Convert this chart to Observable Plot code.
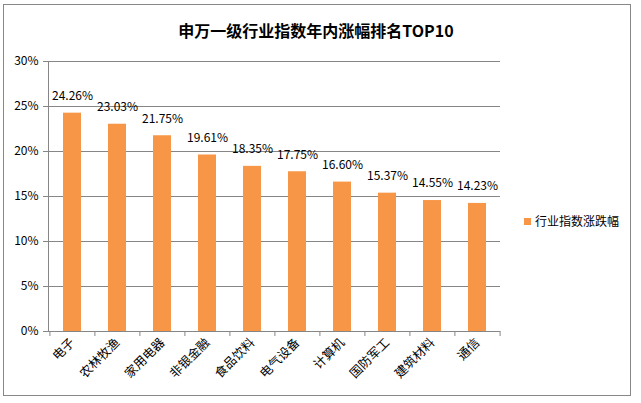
<!DOCTYPE html>
<html>
<head>
<meta charset="utf-8">
<script src="https://cdn.jsdelivr.net/npm/d3@7"></script>
<script src="https://cdn.jsdelivr.net/npm/@observablehq/plot@0.6"></script>
<style>
  html, body { margin: 0; padding: 0; background: #fff; }
  #wrap { position: relative; width: 641px; height: 403px; overflow: hidden; font-family: "Noto Sans CJK SC", "Noto Sans", sans-serif; }
  #border { position: absolute; left: 3px; top: 4px; width: 628px; height: 392px; border: 1px solid #888; box-sizing: border-box; }
  #title { position: absolute; left: 0; top: 19px; width: 632px; text-align: center; font-size: 16px; font-weight: bold; color: #000; line-height: 22px; }
  #legend { position: absolute; left: 524px; top: 212px; font-size: 12px; color: #000; display: flex; align-items: center; line-height: 18px; }
  #legend span.sw { display: inline-block; width: 7px; height: 7px; background: #F79646; margin-right: 4px; }
  #chart { position: absolute; left: 0; top: 0; }
</style>
</head>
<body>
<div id="wrap">
  <div id="chart"></div>
  <div id="border"></div>
  <div id="title">申万一级行业指数年内涨幅排名TOP10</div>
  <div id="legend"><span class="sw"></span><span>行业指数涨跌幅</span></div>
</div>
<script>
const categories = ["电子", "农林牧渔", "家用电器", "非银金融", "食品饮料", "电气设备", "计算机", "国防军工", "建筑材料", "通信"];
const values = [24.26, 23.03, 21.75, 19.61, 18.35, 17.75, 16.60, 15.37, 14.55, 14.23];
const yTicks = [0, 5, 10, 15, 20, 25, 30];
const seriesName = "行业指数涨跌幅";

const data = categories.map((c, i) => ({category: c, value: values[i] / 100}));

const marginLeft = 48, marginRight = 141;
const step = (641 - marginLeft - marginRight) / categories.length;

const plot = Plot.plot({
  width: 641,
  height: 403,
  marginLeft,
  marginRight,
  marginTop: 61,
  marginBottom: 72,
  style: {fontFamily: "'Noto Sans CJK SC', 'Noto Sans', sans-serif", fontSize: "12px", color: "#000", background: "transparent"},
  x: {domain: categories, paddingInner: 0.6, paddingOuter: 0.3, label: null},
  y: {domain: [0, 0.30], label: null},
  marks: [
    Plot.gridY(yTicks.map(d => d / 100), {stroke: "#868686", strokeOpacity: 1, strokeWidth: 1}),
    Plot.barY(data, {x: "category", y: "value", fill: "#F79646"}),
    Plot.ruleX(categories, {x: d => d, dx: -step / 2, y1: 0, y2: 0, insetBottom: -5, stroke: "#868686"}),
    Plot.ruleX(categories.slice(-1), {x: d => d, dx: step / 2, y1: 0, y2: 0, insetBottom: -5, stroke: "#868686"}),
    Plot.frame({anchor: "left", stroke: "#868686"}),
    Plot.ruleY([0], {stroke: "#868686"}),
    Plot.axisY(yTicks.map(d => d / 100), {tickFormat: d => Math.round(d * 100) + "%", tickSize: 5, tickPadding: 5, stroke: "#868686", fill: "#000", fontSize: 12}),
    Plot.axisX({tickRotate: -45, tickSize: 0, tickPadding: 9, fill: "#000", fontSize: 12.5}),
    Plot.text(data, {x: "category", y: "value", text: d => (d.value * 100).toFixed(2) + "%", dy: -17, fill: "#000", fontSize: 12, textAnchor: "middle"})
  ]
});
document.getElementById("chart").appendChild(plot);
</script>
</body>
</html>
